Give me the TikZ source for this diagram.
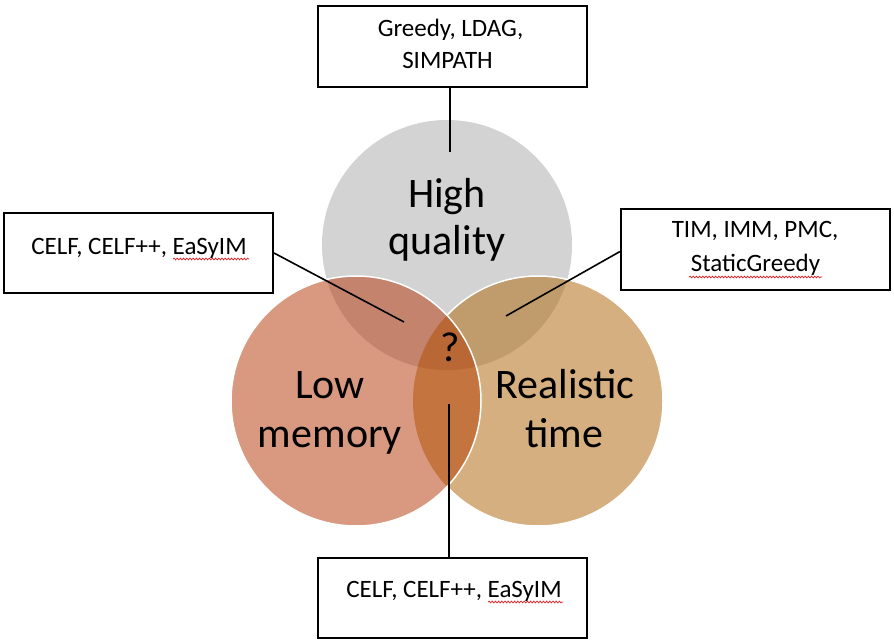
\documentclass[tikz,border=0pt]{standalone}
\usepackage{fontspec}
\setmainfont{Carlito}
\usetikzlibrary{decorations.pathmorphing}
\definecolor{cTop}{RGB}{211,211,211}
\definecolor{cL}{RGB}{217,152,128}
\definecolor{cR}{RGB}{213,175,127}
\definecolor{cTL}{RGB}{196,131,108}
\definecolor{cTR}{RGB}{192,156,108}
\definecolor{cLR}{RGB}{196,116,63}
\definecolor{cAll}{RGB}{185,104,53}
\definecolor{squig}{RGB}{230,30,30}
\begin{document}
\begin{tikzpicture}[x=1pt,y=-1pt,
  box/.style={draw=black,line width=2pt,fill=white,rectangle,minimum width=269pt,inner sep=0pt},
  boxtext/.style={inner sep=0pt,anchor=base,font=\fontsize{25}{30}\selectfont},
  biglabel/.style={inner sep=0pt,anchor=base,font=\fontsize{42}{47}\selectfont},
  conn/.style={draw=black,line width=1.6pt},
  spell/.style={draw=squig,line width=0.7pt,decorate,decoration={snake,amplitude=0.9pt,segment length=3.2pt}}]
\useasboundingbox (0,0) rectangle (894,644);
\fill[white] (0,0) rectangle (894,644);
% circles
\coordinate (cT) at (447,245);
\coordinate (cLc) at (356,401);
\coordinate (cRc) at (538,401);
\fill[cTop] (cT) circle (125pt);
\fill[cR] (cRc) circle (125pt);
\begin{scope}
  \clip (cRc) circle (125pt);
  \fill[cTR] (cT) circle (125pt);
\end{scope}
\draw[white,line width=1.5pt] (cRc) circle (125pt);
\fill[cL] (cLc) circle (125pt);
\begin{scope}
  \clip (cLc) circle (125pt);
  \fill[cTL] (cT) circle (125pt);
  \fill[cLR] (cRc) circle (125pt);
  \clip (cRc) circle (125pt);
  \fill[cAll] (cT) circle (125pt);
\end{scope}
\draw[white,line width=1.5pt] (cLc) circle (125pt);
% circle labels
\node[biglabel] (hq1) at (447,208) {High};
\node[biglabel] (hq2) at (447,255) {quality};
\node[biglabel] (lm1) at (330,398) {Low};
\node[biglabel] (lm2) at (330,447) {memory};
\node[biglabel] (rt1) at (565,398) {Realistic};
\node[biglabel] (rt2) at (564,447) {time};
\node[biglabel] (qm) at (450,361) {?};
% boxes
\node[box,minimum height=81pt] (tb) at (452.5,46.5) {};
\node[box,minimum height=80pt] (lb) at (138.5,253) {};
\node[box,minimum height=81pt] (rb) at (755.5,249.5) {};
\node[box,minimum height=80pt] (bb) at (452.5,598) {};
\node[boxtext] (tb1) at (450.5,37) {Greedy, LDAG,};
\node[boxtext] (tb2) at (447.5,69) {SIMPATH};
\node[boxtext] (lb1) at (139,255) {CELF, CELF++, EaSyIM};
\node[boxtext] (rb1) at (755,238) {TIM, IMM, PMC,};
\node[boxtext] (rb2) at (755.5,272) {StaticGreedy};
\node[boxtext] (bb1) at (454,597) {CELF, CELF++, EaSyIM};
% spelling marks
\draw[spell] (173,259) -- (249,259);
\draw[spell] (689,277) -- (822,277);
\draw[spell] (488,602) -- (563,602);
% connectors
\coordinate (tq) at (450,152);
\coordinate (lq) at (404,322);
\coordinate (rq) at (506,316);
\coordinate (bq) at (449,404);
\draw[conn] (tq |- tb.south) -- (tq);
\draw[conn] (lb.east) -- (lq);
\draw[conn] ([yshift=-2pt]rb.west) -- (rq);
\draw[conn] (bq |- bb.north) -- (bq);
\end{tikzpicture}
\end{document}
